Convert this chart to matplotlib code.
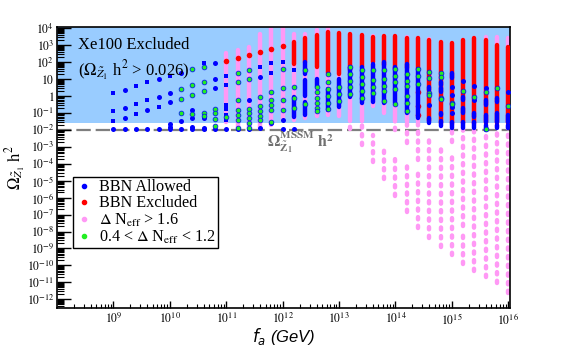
import numpy as np
import matplotlib
matplotlib.use("Agg")
import matplotlib.pyplot as plt
from matplotlib.lines import Line2D
from matplotlib.ticker import LogLocator, NullFormatter, FixedLocator, FixedFormatter

plt.rcParams['font.family'] = ['Liberation Serif', 'DejaVu Serif']
plt.rcParams['mathtext.fontset'] = 'stix'

# ---------------- data (log10 f_a, log10 Omega h^2) ----------------
x_tick_exp = [9, 10, 11, 12, 13, 14, 15, 16]
x_tick_labels = [r'$10^{9}$', r'$10^{10}$', r'$10^{11}$', r'$10^{12}$',
                 r'$10^{13}$', r'$10^{14}$', r'$10^{15}$', r'$10^{16}$']
y_tick_exp = [4, 3, 2, 1, 0, -1, -2, -3, -4, -5, -6, -7, -8, -9, -10, -11, -12]
y_tick_labels = [r'$10^{4}$', r'$10^{3}$', r'$10^{2}$', r'$10$', r'$1$',
                 r'$10^{-1}$', r'$10^{-2}$', r'$10^{-3}$', r'$10^{-4}$', r'$10^{-5}$',
                 r'$10^{-6}$', r'$10^{-7}$', r'$10^{-8}$', r'$10^{-9}$', r'$10^{-10}$',
                 r'$10^{-11}$', r'$10^{-12}$']

omega_xe100 = 0.026
omega_mssm = 0.01

# pink (Delta N_eff > 1.6): dense strips (log fa, lo, hi)
pink_strips = [(11.0, -1.55, 2.5), (11.2, -1.9, 2.7), (11.4, -1.9, 2.9), (11.6, -1.9, 3.65),
               (11.8, -1.7, 4.0), (12.0, -1.4, 4.0), (12.2, -1.4, 3.65), (12.4, -1.3, 3.65),
               (12.6, -1.2, 3.9), (12.8, -1.1, 4.0), (13.0, -1.2, 3.7), (13.2, -1.5, 3.65),
               (13.4, -1.5, 3.6), (13.6, -0.6, 3.5), (13.8, -1.0, 3.5), (14.0, -1.5, 3.5),
               (14.2, -1.5, 3.45), (14.4, -1.5, 3.4), (14.6, -1.5, 3.35), (14.8, -1.5, 3.2),
               (15.0, -1.5, 3.1), (15.2, -1.5, 3.3), (15.4, -1.5, 3.4), (15.6, -1.5, 3.45),
               (15.8, -1.5, 3.45), (16.0, -1.5, 3.4)]
# pink tails below the relic line (sparser points)
pink_tails = [(13.2, -1.95, -1.5), (13.4, -2.9, -1.5), (13.6, -3.9, -2.3), (13.8, -4.9, -3.0),
              (14.0, -2.0, -1.5), (14.0, -5.9, -3.6), (14.2, -2.8, -1.5), (14.2, -6.85, -4.1),
              (14.4, -3.8, -1.5), (14.4, -7.8, -4.5), (14.6, -8.4, -2.6), (14.8, -8.9, -3.1),
              (15.0, -2.7, -1.5), (15.0, -9.4, -3.5), (15.2, -7.7, -1.5), (15.2, -9.9, -8.2),
              (15.4, -10.3, -1.5), (15.6, -10.7, -1.5), (15.8, -11.05, -1.5), (16.0, -11.6, -1.5)]

# red (BBN excluded)
red_pts = [(11.0, 2.07), (11.2, 2.25), (11.4, 2.43), (11.6, 2.56), (11.8, 2.74), (12.0, 2.94),
           (14.4, 0.2), (14.4, -0.6), (14.4, -1.1)]
red_strips = [(12.2, 1.9, 3.2), (12.4, 2.0, 3.4), (12.6, 1.7, 3.6), (12.8, 1.35, 3.75),
              (13.0, 1.3, 3.7), (13.2, 1.5, 3.65), (13.4, 1.7, 3.6), (13.6, 2.0, 3.45),
              (13.8, 1.8, 3.5), (14.0, 1.6, 3.5), (14.2, 1.65, 3.4), (14.4, 1.6, 3.4),
              (14.6, -1.5, 3.3), (14.8, -1.6, 3.19), (15.0, -1.6, 3.1), (15.2, -1.6, 3.29),
              (15.4, -1.6, 3.39), (15.6, -1.6, 3.29), (15.8, -1.6, 3.0), (16.0, -1.6, 2.9)]

# blue (BBN allowed)
blue_sq = [(9.0, 0.14), (9.0, -0.88), (9.0, -1.47), (9.4, 0.59), (9.4, -0.47), (9.4, -1.06),
           (9.6, 0.79), (9.6, -0.24), (9.8, -0.65), (10.0, 1.2), (10.6, 1.92), (11.0, 1.17),
           (11.0, 0.63), (11.0, -0.55), (11.0, -0.8), (11.0, -1.1), (11.0, -1.43), (11.6, 1.72),
           (11.8, 1.91), (11.8, 1.32), (12.0, 2.0), (12.2, 1.52)]
blue_pts = [(9.0, -1.96), (9.2, 0.34), (9.2, -0.7), (9.2, -1.28), (9.2, -1.96), (9.4, -1.96),
            (9.6, -0.84), (9.6, -1.96), (9.8, 0.97), (9.8, -0.04), (9.8, -1.96), (10.0, 0.18),
            (10.0, -0.39), (10.0, -1.67), (10.0, -1.83), (10.0, -1.96), (10.2, 1.36),
            (10.2, -1.47), (10.2, -1.96), (10.4, -0.85), (10.4, -1.3), (10.4, -1.85),
            (10.4, -1.96), (10.6, -1.3), (10.6, -1.9), (10.6, -1.96), (10.8, 1.95), (10.8, 0.97),
            (10.8, 0.44), (10.8, -1.96), (11.0, -1.96), (11.2, -1.96), (11.4, -0.24),
            (11.4, -1.96), (11.6, 1.13), (11.6, -1.87), (11.8, -1.6), (12.0, -1.4), (12.0, -1.96),
            (12.2, -1.96), (14.6, -0.54), (15.0, 0.54), (15.0, 0.05), (15.0, -0.64),
            (15.0, -1.03), (15.2, 0.88), (15.4, 0.6), (15.4, -0.24), (15.6, 0.48), (16.0, 0.25)]
blue_strips = [(12.2, -1.25, -0.05), (12.4, 1.3, 2.0), (12.4, 0.0, 0.93), (12.4, -1.15, -0.35),
               (12.6, 0.55, 1.0), (12.8, -0.85, 0.4), (13.0, -0.65, 1.0), (13.2, -0.05, 1.7),
               (13.4, -0.45, 1.7), (13.6, -0.35, 1.9), (13.8, -0.45, 2.0), (14.0, -0.45, 1.7),
               (14.2, -1.04, 1.9), (14.4, -1.33, 1.6), (14.6, 0.35, 0.54), (14.6, -1.6, -1.3),
               (14.8, 0.64, 0.83), (14.8, 0.25, 0.44), (14.8, -1.13, -1.03), (14.8, -1.8, -1.5),
               (15.0, 1.03, 1.33), (15.0, -1.9, -1.52), (15.2, -0.24, -0.05), (15.2, -1.03, -0.73),
               (15.2, -1.9, -1.52), (15.4, -1.23, -1.03), (15.4, -1.9, -1.52), (15.6, -0.54, -0.24),
               (15.6, -1.52, -1.13), (15.6, -2.0, -1.72), (15.8, -0.34, -0.15), (15.8, -1.52, -1.03),
               (15.8, -1.91, -1.72), (16.0, -1.52, -1.13), (16.0, -1.91, -1.72)]

# green (0.4 < Delta N_eff < 1.2)
green_pts = [(10.2, 0.39), (10.2, -0.16), (10.2, -1.0),
             (10.4, 1.57), (10.4, 0.63), (10.4, 0.04), (10.4, -1.05),
             (10.6, 1.73), (10.6, 0.8), (10.6, 0.28), (10.6, -1.0), (10.6, -1.2),
             (10.8, -0.75), (10.8, -1.0), (10.8, -1.35), (10.8, -1.8), (11.0, -1.25),
             (11.2, 1.36), (11.2, 0.83), (11.2, -0.25), (11.2, -0.85), (11.2, -1.1), (11.2, -1.45),
             (11.2, -1.87), (11.4, 1.52), (11.4, 0.97), (11.4, -0.75), (11.4, -1.0), (11.4, -1.3),
             (11.4, -1.6), (11.4, -1.9), (11.6, -0.05), (11.6, -0.6), (11.6, -0.9), (11.6, -1.2),
             (11.6, -1.43), (11.8, 0.24), (11.8, -0.25), (11.8, -0.55), (11.8, -0.85), (11.8, -1.53),
             (12.0, 1.56), (12.0, 0.44), (12.0, -0.25), (12.0, -0.85), (12.2, 0.54), (12.2, -0.1),
             (12.2, -0.7), (12.4, 1.5), (12.4, -0.5), (12.6, 0.54), (12.6, 0.2), (12.6, -0.1),
             (12.6, -0.4), (12.6, -0.7), (12.6, -0.9), (12.8, 1.3), (12.8, 0.8), (12.8, 0.4),
             (12.8, 0.0), (12.8, -0.4), (12.8, -0.8), (13.0, 0.5), (13.0, 0.1), (13.0, -0.3),
             (13.2, 1.7), (13.2, 1.3), (13.2, 0.9), (13.2, 0.5), (13.2, 0.1), (13.4, 1.5),
             (13.4, 1.1), (13.4, 0.7), (13.4, 0.3), (13.4, -0.1), (13.6, 1.5), (13.6, 0.95),
             (13.6, 0.55), (13.6, 0.15), (13.8, 1.5), (13.8, 1.0), (13.8, 0.6), (13.8, 0.3),
             (13.8, -0.3), (14.0, 1.6), (14.0, 1.2), (14.0, 0.8), (14.0, 0.4), (14.0, -0.5),
             (14.2, 1.3), (14.2, 0.9), (14.2, 0.6), (14.2, 0.0), (14.2, -0.4), (14.2, -0.9),
             (14.4, 1.6), (14.4, 1.2), (14.4, 0.7), (14.6, 1.43), (14.6, 1.03), (14.6, 0.15),
             (14.6, 0.05), (14.8, 1.37), (14.8, 1.1), (14.8, -0.1), (14.8, -0.2), (15.0, -0.45),
             (15.0, -0.5), (15.2, 0.31), (15.4, -0.05), (15.6, 0.21), (15.6, -1.96), (15.8, 0.44),
             (16.0, -0.6)]

# ---------------- styling ----------------
C_PINK = '#ff99f5'
C_RED = '#ff0000'
C_BLUE = '#0000ff'
C_GREEN = '#22ee22'
C_SHADE = '#99ccff'
STRIP_LW = 3.2

fig = plt.figure(figsize=(5.67, 3.52), dpi=100)
ax = fig.add_axes([57 / 567, 1 - 308 / 352, 453 / 567, 281 / 352])
ax.set_xscale('log')
ax.set_yscale('log')
ax.set_xlim(10 ** 8.0, 10 ** 16.03)
ax.set_ylim(10 ** -12.51, 10 ** 4.06)

ax.axhspan(omega_xe100, 10 ** 5, facecolor=C_SHADE, edgecolor='none', zorder=0)
ax.axhline(omega_mssm, color='#7f7f7f', lw=1.6, dashes=(6.5, 2.2), zorder=1)


def strips(data, color, z, **kw):
    xs = [10 ** d[0] for d in data]
    lo = [10 ** d[1] for d in data]
    hi = [10 ** d[2] for d in data]
    ax.vlines(xs, lo, hi, colors=color, linewidth=STRIP_LW, capstyle='round', zorder=z, **kw)


def points(data, color, z, marker='o', s=13, **kw):
    xs = [10 ** d[0] for d in data]
    ys = [10 ** d[1] for d in data]
    ax.scatter(xs, ys, s=s, c=color, marker=marker, linewidths=0, zorder=z, **kw)


strips(pink_strips, C_PINK, 2)
strips(pink_tails, C_PINK, 2, linestyles=[(0, (0.5, 1.45))])
strips(red_strips, C_RED, 3)
points(red_pts, C_RED, 3, s=16)
strips(blue_strips, C_BLUE, 4)
points(blue_pts, C_BLUE, 4, s=13)
points(blue_sq, C_BLUE, 4, marker='s', s=10)
xs = [10 ** d[0] for d in green_pts]
ys = [10 ** d[1] for d in green_pts]
ax.scatter(xs, ys, s=12, c=C_GREEN, edgecolors=C_BLUE, linewidths=0.5, zorder=5)

# ---------------- axes ----------------
ax.xaxis.set_major_locator(FixedLocator([10.0 ** e for e in x_tick_exp]))
ax.xaxis.set_major_formatter(FixedFormatter(x_tick_labels))
ax.xaxis.set_minor_locator(LogLocator(base=10, subs=np.arange(2, 10), numticks=50))
ax.xaxis.set_minor_formatter(NullFormatter())
ax.yaxis.set_major_locator(FixedLocator([10.0 ** e for e in y_tick_exp]))
ax.yaxis.set_major_formatter(FixedFormatter(y_tick_labels))
ax.yaxis.set_minor_locator(LogLocator(base=10, subs=np.arange(2, 10), numticks=50))
ax.yaxis.set_minor_formatter(NullFormatter())

ax.tick_params(axis='y', which='major', direction='in', length=10, width=1, pad=2, labelsize=8.5)
ax.tick_params(axis='y', which='minor', direction='in', length=5, width=0.8)
ax.tick_params(axis='x', which='major', direction='in', length=5, width=1, pad=3, labelsize=8.5)
ax.tick_params(axis='x', which='minor', direction='in', length=3, width=0.8)
for sp in ax.spines.values():
    sp.set_linewidth(1.2)

ax.set_xlabel(r'$f_a$ (GeV)', family='Liberation Sans', style='italic', fontsize=12,
              math_fontfamily='dejavusans')
ax.xaxis.set_label_coords(0.5, -0.065)
ax.set_ylabel(r'$\Omega_{\tilde{Z}_1}\ \mathrm{h}^2$', fontsize=12)
ax.yaxis.set_label_coords(-0.064, 0.5)

ax.text(0.046, 0.965, 'Xe100 Excluded', transform=ax.transAxes, fontsize=12, va='top', zorder=6)
ax.text(0.046, 0.885, r'($\Omega_{\tilde{Z}_1}$ h$^2$ > 0.026)', transform=ax.transAxes,
        fontsize=12, va='top', zorder=6)
ax.text(10 ** 11.73, 10 ** -2.75,
        r'$\mathbf{\Omega}^{\mathbf{MSSM}}_{\tilde{\mathbf{Z}}_{\mathbf{1}}}\ \mathbf{h}^{\mathbf{2}}$',
        color='#707070', fontsize=11.5, va='center', ha='left', zorder=6)

handles = [Line2D([], [], ls='', marker='o', ms=3, color=c)
           for c in (C_BLUE, C_RED, C_PINK, C_GREEN)]
labels = ['BBN Allowed', 'BBN Excluded', r'$\Delta$ N$_{\rm eff}$ > 1.6',
          r'0.4 < $\Delta$ N$_{\rm eff}$ < 1.2']
leg = ax.legend(handles, labels, loc='upper left', bbox_to_anchor=(0.035, 0.466),
                borderaxespad=0, fontsize=11.6, frameon=True, fancybox=False,
                framealpha=1, edgecolor='black', handlelength=1.1, handletextpad=0.4,
                borderpad=0.15, labelspacing=0.0)
leg.get_frame().set_linewidth(1.0)
leg.set_zorder(7)

fig.savefig('out.png', dpi=100)
